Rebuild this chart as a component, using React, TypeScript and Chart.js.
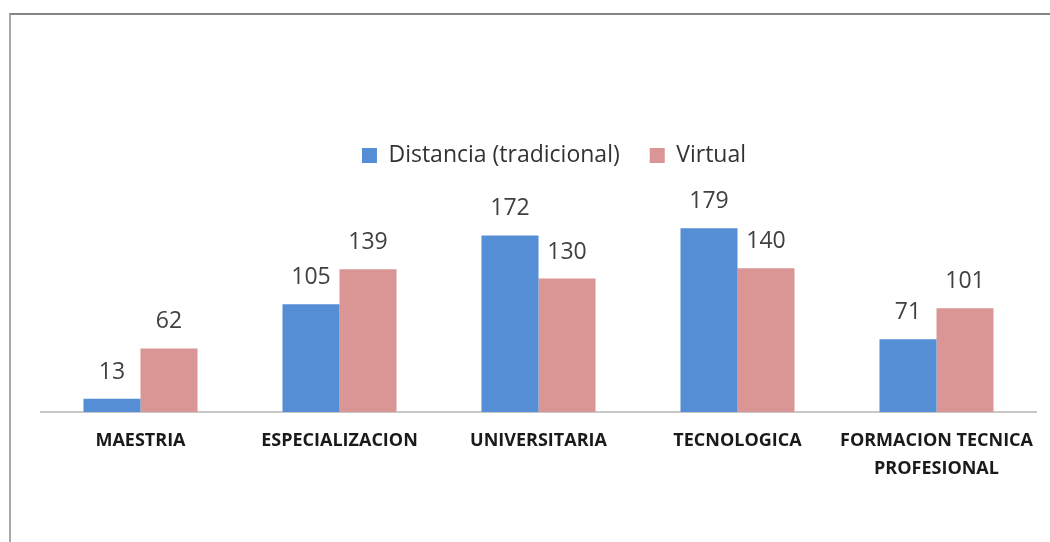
import React, { useEffect, useRef } from "react";
import { Chart, registerables } from "chart.js";

Chart.register(...registerables);

const categories: (string | string[])[] = [
  "MAESTRIA",
  "ESPECIALIZACION",
  "UNIVERSITARIA",
  "TECNOLOGICA",
  ["FORMACION TECNICA", "PROFESIONAL"],
];
const distanciaValues = [13, 105, 172, 179, 71];
const virtualValues = [62, 139, 130, 140, 101];
const seriesNames = ["Distancia (tradicional)", "Virtual"];
const yMax = 229;

const valueLabels = {
  id: "valueLabels",
  afterDatasetsDraw(chart: any) {
    const ctx = chart.ctx;
    ctx.save();
    ctx.font = "23px 'Open Sans'";
    ctx.fillStyle = "#404040";
    ctx.textAlign = "center";
    ctx.textBaseline = "alphabetic";
    chart.data.datasets.forEach((ds: any, i: number) => {
      const meta = chart.getDatasetMeta(i);
      meta.data.forEach((bar: any, j: number) => {
        ctx.fillText(String(ds.data[j]), bar.x, bar.y - 20);
      });
    });
    ctx.restore();
  },
};

export default function App() {
  const ref = useRef<HTMLCanvasElement>(null);
  useEffect(() => {
    if (!ref.current) return;
    const chart = new Chart(ref.current, {
      type: "bar",
      data: {
        labels: categories,
        datasets: [
          {
            label: seriesNames[0],
            data: distanciaValues,
            backgroundColor: "#558ED5",
          },
          {
            label: seriesNames[1],
            data: virtualValues,
            backgroundColor: "#D99694",
          },
        ],
      },
      options: {
        animation: false,
        responsive: false,
        maintainAspectRatio: false,
        layout: { padding: { top: 114, left: 41, right: 33, bottom: 0 } },
        datasets: { bar: { categoryPercentage: 0.573, barPercentage: 1 } },
        plugins: {
          legend: {
            position: "top",
            labels: {
              boxWidth: 15,
              boxHeight: 15,
              padding: 30,
              color: "#333333",
              font: { family: "'Open Sans'", size: 23 },
            },
          },
          tooltip: { enabled: false },
        },
        scales: {
          x: {
            grid: { display: false, drawTicks: false },
            border: { display: true, color: "#c8c8c8", width: 2 },
            ticks: {
              color: "#1a1a1a",
              padding: 15,
              maxRotation: 0,
              autoSkip: false,
              font: { family: "'Open Sans'", size: 18, weight: "bold", lineHeight: 1.55 },
            },
            afterFit: (scale: any) => {
              scale.height = 130;
            },
          },
          y: { display: false, min: 0, max: yMax },
          spacer: {
            type: "linear",
            position: "right",
            display: true,
            min: 0,
            max: 1,
            grid: { display: false, drawTicks: false },
            border: { display: false },
            ticks: { display: false },
            afterFit: (scale: any) => {
              scale.width = 31;
            },
          },
        },
      },
      plugins: [valueLabels],
    });
    return () => chart.destroy();
  }, []);
  return (
    <div
      style={{
        position: "absolute",
        left: 0,
        top: 0,
        width: 1050,
        height: 542,
        overflow: "hidden",
        background: "#fff",
      }}
    >
      <div
        style={{
          position: "absolute",
          left: 9,
          top: 13,
          width: 1041,
          height: 529,
          borderTop: "2px solid #858585",
          borderLeft: "2px solid #a8a8a8",
          boxSizing: "border-box",
        }}
      />
      <canvas ref={ref} width={1100} height={542} style={{ position: "absolute", left: 0, top: 0 }} />
    </div>
  );
}
